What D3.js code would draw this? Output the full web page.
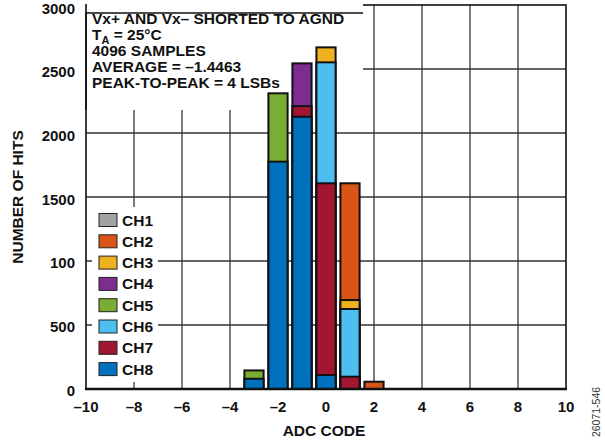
<!DOCTYPE html>
<html>
<head>
<meta charset="utf-8">
<script src="https://cdn.jsdelivr.net/npm/d3@7"></script>
<style>
	body { margin: 0; background: #fff; }
	svg text { font-family: "Liberation Sans", Arial, sans-serif; font-weight: bold; fill: #111; }
</style>
</head>
<body>
<svg id="chart" width="605" height="442"></svg>
<script>
// ADC codes that carry hits
var codes = [-3, -2, -1, 0, 1, 2];

// hits per channel at each code (only the visible bars could be read; hidden ones left at 0)
var ch1 = [0, 0, 0, 0, 0, 0];
var ch2 = [0, 0, 0, 0, 1607, 57];
var ch3 = [0, 0, 0, 2669, 695, 0];
var ch4 = [0, 0, 2544, 0, 0, 0];
var ch5 = [145, 2310, 0, 0, 0, 0];
var ch6 = [0, 0, 0, 2552, 625, 0];
var ch7 = [0, 0, 2210, 1607, 96, 0];
var ch8 = [80, 1776, 2127, 109, 0, 0];

var channelNames = ["CH1", "CH2", "CH3", "CH4", "CH5", "CH6", "CH7", "CH8"];
var channelColors = ["#a2a2a2", "#da5317", "#efb120", "#7d2c8f", "#79ad33", "#4dbeef", "#a31632", "#0071bc"];

var xTicks = [-10, -8, -6, -4, -2, 0, 2, 4, 6, 8, 10];
var xTickLabels = ["\u201310", "\u20138", "\u20136", "\u20134", "\u20132", "0", "2", "4", "6", "8", "10"];
var yTicks = [0, 500, 1000, 1500, 2000, 2500, 3000];
var yTickLabels = ["0", "500", "100", "1500", "2000", "2500", "3000"];

var notes = ["Vx+ AND Vx\u2013 SHORTED TO AGND", "T|A| = 25\u00b0C", "4096 SAMPLES", "AVERAGE = \u20131.4463", "PEAK-TO-PEAK = 4 LSBs"];

var svg = d3.select("#chart");

var x = d3.scaleLinear().domain([-10, 10]).range([86, 566]),
	y = d3.scaleLinear().domain([0, 3000]).range([389, 5]),
	yLabel = d3.scaleLinear().domain([0, 3000]).range([390, 8]), // labels drift a little off the grid in the original
	barWidth = 0.8;

var series = [ch1, ch2, ch3, ch4, ch5, ch6, ch7, ch8].map(function(vals, i) {
	return {
		name: channelNames[i],
		color: channelColors[i],
		values: codes.map(function(c, j) { return { code: c, hits: vals[j] }; })
	};
});

// grid
var grid = svg.append("g").attr("class", "grid");
grid.selectAll(".vline")
	.data(xTicks.slice(1, -1))
	.enter().append("line")
	.attr("x1", function(d) { return x(d); })
	.attr("x2", function(d) { return x(d); })
	.attr("y1", y(3000))
	.attr("y2", y(0))
	.attr("stroke", "#333")
	.attr("stroke-width", 1.3);
grid.selectAll(".hline")
	.data(yTicks.slice(1, -1))
	.enter().append("line")
	.attr("x1", x(-10))
	.attr("x2", x(10))
	.attr("y1", function(d) { return y(d); })
	.attr("y2", function(d) { return y(d); })
	.attr("stroke", "#333")
	.attr("stroke-width", 1.3);

// frame
svg.append("rect")
	.attr("x", x(-10))
	.attr("y", y(3000))
	.attr("width", x(10) - x(-10))
	.attr("height", y(0) - y(3000))
	.attr("fill", "none")
	.attr("stroke", "#111")
	.attr("stroke-width", 1.6);

// annotation box, white, sits over the grid
var note = svg.append("g");
note.append("rect")
	.attr("x", x(-10) + 1)
	.attr("y", 0)
	.attr("width", 276)
	.attr("height", 110)
	.attr("fill", "#fff");
note.append("path")
	.attr("d", "M" + x(-10) + ",110V13H" + (x(-10) + 277))
	.attr("fill", "none")
	.attr("stroke", "#111")
	.attr("stroke-width", 1.6);

var noteText = note.selectAll("text")
	.data(notes)
	.enter().append("text")
	.attr("x", 92)
	.attr("y", function(d, i) { return 24 + i * 16; })
	.style("font-size", "15.5px");
noteText.each(function(d) {
	var parts = d.split("|"), t = d3.select(this);
	t.append("tspan").text(parts[0]);
	if (parts.length > 1) {
		t.append("tspan").attr("dy", 4).style("font-size", "11px").text(parts[1]);
		t.append("tspan").attr("dy", -4).text(parts[2]);
	}
});

// bars: channels drawn one over the other, CH8 in front
var layers = svg.selectAll(".layer")
	.data(series)
	.enter().append("g")
	.attr("class", "layer")
	.attr("fill", function(d) { return d.color; });

layers.selectAll("rect")
	.data(function(d) { return d.values.filter(function(v) { return v.hits > 0; }); })
	.enter().append("rect")
	.attr("x", function(d) { return x(d.code - barWidth / 2); })
	.attr("width", x(barWidth) - x(0))
	.attr("y", function(d) { return y(d.hits); })
	.attr("height", function(d) { return y(0) - y(d.hits); })
	.attr("stroke", "#111")
	.attr("stroke-width", 2);

// axis line on the bottom, heavier
svg.append("line")
	.attr("x1", x(-10) - 1).attr("x2", x(10) + 1)
	.attr("y1", y(0)).attr("y2", y(0))
	.attr("stroke", "#111")
	.attr("stroke-width", 2.4);

// legend
var legend = svg.append("g").attr("transform", "translate(92,207)");
legend.append("rect")
	.attr("width", 66)
	.attr("height", 175)
	.attr("fill", "#fff");
var item = legend.selectAll(".item")
	.data(series)
	.enter().append("g")
	.attr("class", "item")
	.attr("transform", function(d, i) { return "translate(0," + (13 + i * 21.3) + ")"; });
item.append("rect")
	.attr("x", 7)
	.attr("y", -6.5)
	.attr("width", 18)
	.attr("height", 13)
	.attr("fill", function(d) { return d.color; })
	.attr("stroke", "#222")
	.attr("stroke-width", 1);
item.append("text")
	.attr("x", 30)
	.attr("y", 5.5)
	.style("font-size", "15.5px")
	.text(function(d) { return d.name; });

// tick labels
svg.selectAll(".ylab")
	.data(yTicks)
	.enter().append("text")
	.attr("x", 75)
	.attr("y", function(d) { return yLabel(d) + 5.5; })
	.attr("text-anchor", "end")
	.style("font-size", "15px")
	.text(function(d, i) { return yTickLabels[i]; });

svg.selectAll(".xlab")
	.data(xTicks)
	.enter().append("text")
	.attr("x", function(d) { return x(d); })
	.attr("y", 412)
	.attr("text-anchor", "middle")
	.style("font-size", "15px")
	.text(function(d, i) { return xTickLabels[i]; });

// titles
svg.append("text")
	.attr("x", 324)
	.attr("y", 436)
	.attr("text-anchor", "middle")
	.style("font-size", "15.5px")
	.text("ADC CODE");

svg.append("text")
	.attr("transform", "translate(23,197) rotate(-90)")
	.attr("text-anchor", "middle")
	.style("font-size", "15.5px")
	.text("NUMBER OF HITS");

svg.append("text")
	.attr("transform", "translate(600,412) rotate(-90)")
	.attr("text-anchor", "middle")
	.style("font-size", "10.5px")
	.style("font-weight", "normal")
	.style("fill", "#333")
	.text("26071-546");
</script>
</body>
</html>
